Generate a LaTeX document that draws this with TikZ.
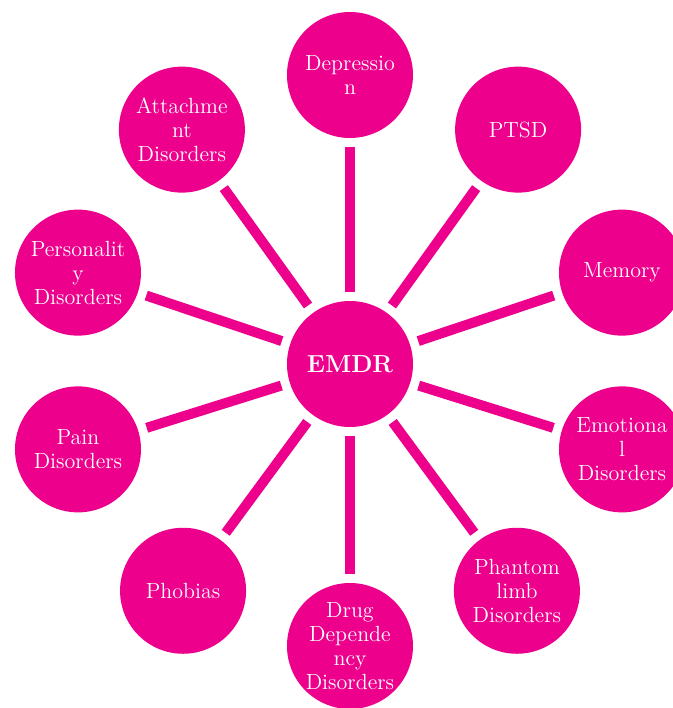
\documentclass[tikz,border=0pt]{standalone}
\usepackage{amsmath, amsfonts, amssymb}
\definecolor{emdrpink}{RGB}{236,0,140}
\tikzset{
  topic/.style={circle, fill=emdrpink, text=white, minimum size=2.52cm, inner sep=0pt, outer sep=0pt, align=center, font=\fontsize{12.5}{13.7}\selectfont},
  spoke/.style={line width=0.2cm, emdrpink, shorten <=0.18cm, shorten >=0.18cm}
}
\begin{document}
\begin{tikzpicture}
\useasboundingbox (-7.0,-6.94) rectangle (6.46,7.22);
\node[topic, font=\bfseries\fontsize{14}{16}\selectfont] (emdr) at (0,-0.06) {EMDR};
\node[topic] (depression) at (90:5.72) {Depressio\\n};
\node[topic] (ptsd) at (54:5.72) {PTSD};
\node[topic] (memory) at (18:5.72) {Memory};
\node[topic] (emotional) at (-18:5.72) {Emotiona\\l\\Disorders};
\node[topic] (phantom) at (-54:5.68) {Phantom\\limb\\Disorders};
\node[topic] (drug) at (-90:5.7) {Drug\\Depende\\ncy\\Disorders};
\node[topic] (phobias) at (-126:5.68) {Phobias};
\node[topic] (pain) at (-162:5.72) {Pain\\Disorders};
\node[topic] (personality) at (162:5.72) {Personalit\\y\\Disorders};
\node[topic] (attachment) at (126:5.72) {Attachme\\nt\\Disorders};
\foreach \t in {depression,ptsd,memory,emotional,phantom,drug,phobias,pain,personality,attachment}
  \draw[spoke] (emdr) -- (\t);
\end{tikzpicture}
\end{document}
